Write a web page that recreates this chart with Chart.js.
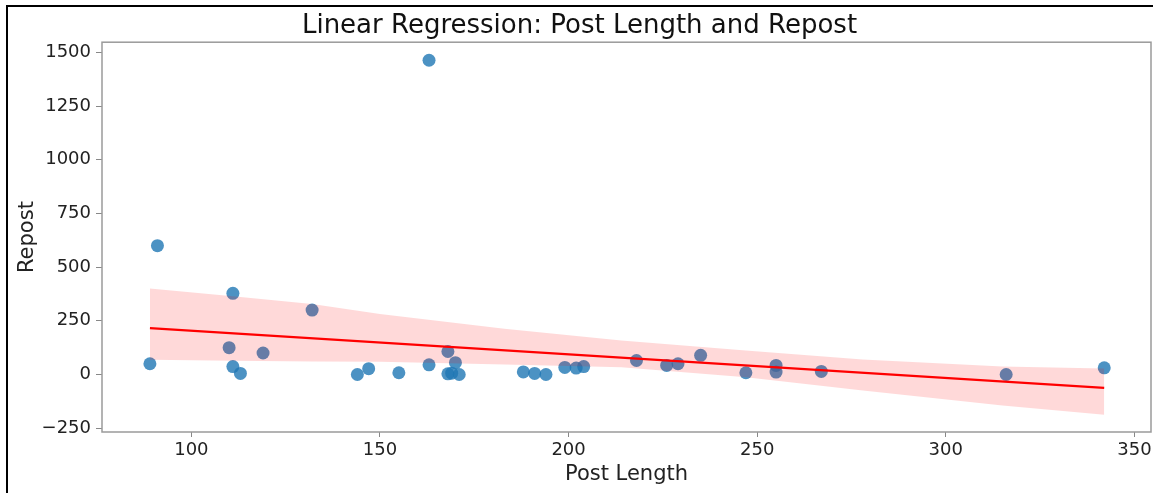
<!DOCTYPE html>
<html>
<head>
<meta charset="utf-8">
<script src="https://cdn.jsdelivr.net/npm/chart.js@4"></script>
<style>
  body { margin: 0; background: #fff; }
  #wrap { position: relative; width: 1153px; height: 493px; }
  #edge { position: absolute; left: 6px; top: 5px; right: 0; bottom: 0;
          border-top: 2px solid #000; border-left: 2px solid #000; pointer-events: none; }
</style>
</head>
<body>
<div id="wrap">
  <canvas id="myChart" width="1153" height="493"></canvas>
  <div id="edge"></div>
</div>
<script>
// post length vs number of reposts
const postLength = [89, 91, 110, 111, 111, 113, 119, 132, 144, 147, 155, 163, 163, 168, 168, 169, 170, 171,
  188, 191, 194, 199, 202, 204, 218, 226, 229, 235, 247, 255, 255, 267, 316, 342];
const repost = [50, 600, 125, 378, 37, 5, 100, 300, 0, 27, 8, 45, 1464, 107, 3, 6, 55, 0,
  12, 5, 0, 33, 30, 37, 65, 42, 50, 89, 8, 42, 11, 14, 0, 31];

// 95% confidence band around the fit
const bandX = [89, 111, 132, 150, 183, 214, 247, 278, 315, 342];
const bandUpper = [400, 364, 328, 282, 213, 158, 112, 70, 37, 28];
const bandLower = [69, 64, 60, 59, 47, 34, -13, -75, -145, -188];

const xTicks = [100, 150, 200, 250, 300, 350];
const yTicks = [-250, 0, 250, 500, 750, 1000, 1250, 1500];

// least squares fit
const n = postLength.length;
const mx = postLength.reduce((a, b) => a + b, 0) / n;
const my = repost.reduce((a, b) => a + b, 0) / n;
let sxy = 0, sxx = 0;
for (let i = 0; i < n; i++) {
  sxy += (postLength[i] - mx) * (repost[i] - my);
  sxx += (postLength[i] - mx) ** 2;
}
const slope = sxy / sxx;
const intercept = my - slope * mx;
const xMin = Math.min(...postLength), xMax = Math.max(...postLength);
const fitLine = [xMin, xMax].map(x => ({ x: x, y: intercept + slope * x }));

const points = postLength.map((x, i) => ({ x: x, y: repost[i] }));
const upper = bandX.map((x, i) => ({ x: x, y: bandUpper[i] }));
const lower = bandX.map((x, i) => ({ x: x, y: bandLower[i] }));

const frame = {
  id: 'frame',
  afterDraw(chart) {
    const { ctx, chartArea: a } = chart;
    ctx.save();
    ctx.strokeStyle = '#9a9a9a';
    ctx.lineWidth = 1.5;
    ctx.strokeRect(a.left, a.top, a.right - a.left, a.bottom - a.top);
    ctx.restore();
  }
};

const font = { family: 'DejaVu Sans', size: 18 };
const plain = v => String(v).replace('-', '\u2212');

new Chart(document.getElementById('myChart'), {
  type: 'scatter',
  data: {
    datasets: [{
      type: 'line',
      data: fitLine,
      borderColor: '#ff0000',
      borderWidth: 2.2,
      pointRadius: 0,
      order: 1
    }, {
      type: 'line',
      data: upper,
      borderWidth: 0,
      pointRadius: 0,
      backgroundColor: 'rgba(255, 0, 0, 0.15)',
      fill: '+1',
      order: 2
    }, {
      type: 'line',
      data: lower,
      borderWidth: 0,
      pointRadius: 0,
      fill: false,
      order: 2
    }, {
      data: points,
      backgroundColor: 'rgba(31, 119, 180, 0.8)',
      borderWidth: 0,
      pointRadius: 6.5,
      order: 3
    }]
  },
  options: {
    responsive: false,
    devicePixelRatio: 1,
    animation: false,
    layout: { autoPadding: false, padding: { left: 8, right: 2, top: 0, bottom: 0 } },
    plugins: {
      legend: { display: false },
      tooltip: { enabled: false },
      title: {
        display: true,
        text: 'Linear Regression: Post Length and Repost',
        color: '#111',
        font: { family: 'DejaVu Sans', size: 26, weight: 'normal', lineHeight: 1.2 },
        padding: { top: 11, bottom: 0 }
      }
    },
    scales: {
      x: {
        type: 'linear',
        min: 76.3,
        max: 354.4,
        afterFit: s => { s.height = 61; s.paddingLeft = 0; s.paddingRight = 0; },
        afterBuildTicks: s => { s.ticks = xTicks.map(v => ({ value: v })); },
        border: { display: false },
        grid: { drawOnChartArea: false, drawTicks: true, tickLength: 5, color: '#888' },
        ticks: { color: '#222', font: font, padding: 3, callback: plain },
        title: {
          display: true,
          text: 'Post Length',
          color: '#222',
          font: { family: 'DejaVu Sans', size: 21, lineHeight: 1.2 },
          padding: { top: 0, bottom: 6 }
        }
      },
      y: {
        min: -268,
        max: 1548,
        afterFit: s => { s.width = 94; s.paddingTop = 0; s.paddingBottom = 0; },
        afterBuildTicks: s => { s.ticks = yTicks.map(v => ({ value: v })); },
        border: { display: false },
        grid: { drawOnChartArea: false, drawTicks: true, tickLength: 6, color: '#888' },
        ticks: { color: '#222', font: font, padding: 5, callback: plain },
        title: {
          display: true,
          text: 'Repost',
          color: '#222',
          font: { family: 'DejaVu Sans', size: 21, lineHeight: 1.2 },
          padding: { top: 7, bottom: 0 }
        }
      }
    }
  },
  plugins: [frame]
});
</script>
</body>
</html>
